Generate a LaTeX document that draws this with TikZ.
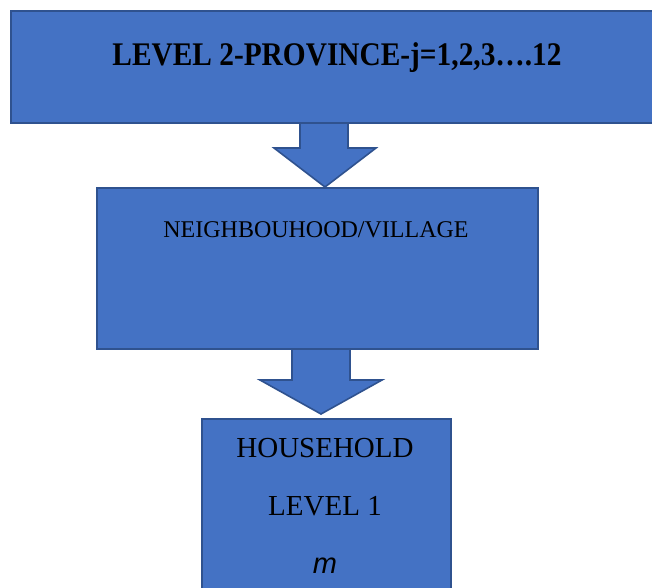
\documentclass[tikz,border=0pt]{standalone}
\usepackage{fontspec}
\setmainfont{Liberation Serif}
\newfontfamily\arialfont{Liberation Sans}
\definecolor{boxfill}{HTML}{4472C4}
\definecolor{boxline}{HTML}{2F528F}
\begin{document}
\begin{tikzpicture}[x=1pt,y=-1pt,
  blockbox/.style={draw=boxline,fill=boxfill,line width=1.6pt,anchor=north west,inner sep=0pt},
  blockarrow/.style={draw=boxline,fill=boxfill,line width=1.6pt,line join=miter},
  label/.style={anchor=base,inner sep=0pt,text=black}]
\clip (0,0) rectangle (652,587);
\fill[white] (0,0) rectangle (652,587);

% down arrows between the levels
\draw[blockarrow] (300,120) -- (300,148) -- (274,148) -- (325,187) -- (376,148) -- (348,148) -- (348,120) -- cycle;
\draw[blockarrow] (292,346) -- (292,380) -- (260,380) -- (321,414) -- (382,380) -- (350,380) -- (350,346) -- cycle;

% level boxes
\node[blockbox,minimum width=654pt,minimum height=112pt] (province) at (10,10) {};
\node[blockbox,minimum width=441pt,minimum height=161pt] (village) at (96,187) {};
\node[blockbox,minimum width=249pt,minimum height=190pt] (household) at (201,418) {};

% texts
\node[label,xscale=0.89] (provtext) at (337,65) {\fontsize{33}{39}\selectfont\bfseries LEVEL 2-PROVINCE-j=1,2,3….12};
\node[label] (viltext) at (316,237) {\fontsize{24}{29}\selectfont NEIGHBOUHOOD/VILLAGE};
\node[label] (hhtext) at (325,457) {\fontsize{29}{35}\selectfont HOUSEHOLD};
\node[label] (lvtext) at (325,515) {\fontsize{29}{35}\selectfont LEVEL 1};
\node[label] (mtext) at (325,573) {\fontsize{29}{35}\selectfont\arialfont\itshape m};
\end{tikzpicture}
\end{document}
